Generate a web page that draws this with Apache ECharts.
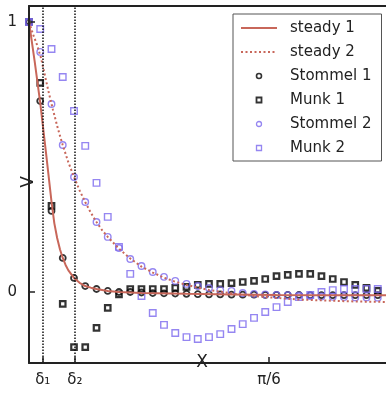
<!DOCTYPE html>
<html><head><meta charset="utf-8">
<script src="https://cdn.jsdelivr.net/npm/echarts@6/dist/echarts.min.js"></script>
<style>html,body{margin:0;padding:0;background:#fff;}#c{width:386px;height:394px;}</style>
</head><body><div id="c"></div>
<script>
// sample positions (k * pi/128)
const sampleX = [0, 0.0245, 0.0491, 0.0736, 0.0982, 0.1227, 0.1473, 0.1718, 0.1963, 0.2209,
  0.2454, 0.2700, 0.2945, 0.3191, 0.3436, 0.3682, 0.3927, 0.4172, 0.4418, 0.4663,
  0.4909, 0.5154, 0.5400, 0.5645, 0.5890, 0.6136, 0.6381, 0.6627, 0.6872, 0.7118,
  0.7363, 0.7609];
const stommel1 = [1.0, 0.707, 0.300, 0.126, 0.052, 0.022, 0.011, 0.004, 0.000, 0.000,
  -0.002, -0.004, -0.005, -0.006, -0.007, -0.008, -0.009, -0.009, -0.010, -0.010,
  -0.010, -0.011, -0.011, -0.011, -0.011, -0.012, -0.012, -0.012, -0.012, -0.012,
  -0.012, -0.012];
const munk1 = [1.0, 0.774, 0.319, -0.044, -0.204, -0.204, -0.133, -0.059, -0.009, 0.011,
  0.011, 0.011, 0.011, 0.015, 0.019, 0.026, 0.030, 0.030, 0.033, 0.037,
  0.041, 0.048, 0.059, 0.063, 0.067, 0.067, 0.059, 0.048, 0.037, 0.026,
  0.015, 0.004];
const stommel2 = [1.0, 0.889, 0.696, 0.544, 0.426, 0.333, 0.259, 0.204, 0.163, 0.122,
  0.096, 0.074, 0.056, 0.041, 0.030, 0.022, 0.015, 0.007, 0.004, -0.004,
  -0.007, -0.009, -0.011, -0.012, -0.013, -0.015, -0.017, -0.018, -0.019, -0.020,
  -0.020, -0.021];
const munk2 = [1.0, 0.974, 0.900, 0.796, 0.670, 0.541, 0.404, 0.278, 0.167, 0.067,
  -0.015, -0.078, -0.122, -0.152, -0.167, -0.174, -0.167, -0.156, -0.137, -0.119,
  -0.096, -0.074, -0.056, -0.037, -0.019, -0.011, 0.000, 0.007, 0.011, 0.011,
  0.011, 0.011];
const steady1X = [0, 0.0123, 0.0245, 0.0368, 0.0491, 0.0552, 0.0614, 0.0675, 0.0736, 0.0798, 0.0859,
  0.0982, 0.1104, 0.1227, 0.1350, 0.1473, 0.1718, 0.1963, 0.2454, 0.3436, 0.4418, 0.5400, 0.6381, 0.7854];
const steady1Y = [1.0, 0.855, 0.700, 0.520, 0.335, 0.255, 0.200, 0.158, 0.126, 0.100, 0.080,
  0.052, 0.034, 0.022, 0.016, 0.011, 0.004, 0.000, -0.004, -0.007, -0.009, -0.011, -0.012, -0.012];
const steady2X = [0, 0.0087, 0.0175, 0.0262, 0.0349, 0.0436, 0.0524, 0.0630, 0.0736, 0.0859, 0.0982, 0.1104, 0.1227,
  0.1350, 0.1473, 0.1595, 0.1718, 0.1963, 0.2209, 0.2454, 0.2700, 0.2945, 0.3191, 0.3436, 0.3927, 0.4418, 0.4909,
  0.5400, 0.5890, 0.6381, 0.6872, 0.7363, 0.7854];
const steady2Y = [1.0, 0.955, 0.915, 0.867, 0.800, 0.735, 0.674, 0.605, 0.544, 0.480, 0.426, 0.376, 0.333,
  0.293, 0.259, 0.229, 0.204, 0.160, 0.124, 0.094, 0.072, 0.053, 0.038, 0.026, 0.007, -0.005, -0.015,
  -0.022, -0.028, -0.031, -0.034, -0.036, -0.037];
const deltaLines = [0.03, 0.1];
const xTickValues = [0.03, 0.1, Math.PI / 6];
const xTickLabels = ['δ₁', 'δ₂', 'π/6'];
const yTickValues = [0, 1];
const yTickLabels = ['0', '1'];
const seriesNames = ['steady 1', 'steady 2', 'Stommel 1', 'Munk 1', 'Stommel 2', 'Munk 2'];

const RED = '#c8675a', BLUE = '#7b68ee', INK = '#222';
const FONT = 'DejaVu Sans';
const SQUARE = 'path://M0,0H10V10H0Z';
function pairs(xs, ys) { return ys.map((y, i) => [xs[i], y]); }
function lab(vals, labels) {
  return v => { const i = vals.findIndex(t => Math.abs(t - v) < 1e-9); return i >= 0 ? labels[i] : ''; };
}
const NOFILL = 'rgba(0,0,0,0)';

const chart = echarts.init(document.getElementById('c'), null, { renderer: 'canvas' });
chart.setOption({
  animation: false,
  backgroundColor: '#fff',
  textStyle: { fontFamily: FONT },
  grid: { left: 29, right: -3, top: 6, bottom: 31, containLabel: false, outerBoundsMode: 'none' },
  legend: {
    orient: 'vertical', left: 233, top: 14,
    itemWidth: 36, itemHeight: 5, itemGap: 8, symbolKeepAspect: true,
    padding: [6, 10, 5, 7],
    borderColor: '#555', borderWidth: 1, borderRadius: 0, backgroundColor: '#fff',
    textStyle: { fontFamily: FONT, fontSize: 15, color: INK, lineHeight: 16, padding: [0, 0, 0, 8] },
    data: [
      { name: seriesNames[0], itemStyle: { color: NOFILL, borderWidth: 0, opacity: 0 } },
      { name: seriesNames[1], itemStyle: { color: NOFILL, borderWidth: 0, opacity: 0 } },
      { name: seriesNames[2], icon: 'circle', itemStyle: { color: NOFILL, borderColor: '#000', borderWidth: 1.6 } },
      { name: seriesNames[3], icon: SQUARE, itemStyle: { color: NOFILL, borderColor: '#000', borderWidth: 1.8 } },
      { name: seriesNames[4], icon: 'circle', itemStyle: { color: NOFILL, borderColor: BLUE, borderWidth: 1.3 } },
      { name: seriesNames[5], icon: SQUARE, itemStyle: { color: NOFILL, borderColor: BLUE, borderWidth: 1.3 } }
    ]
  },
  xAxis: [{
    type: 'value', min: 0, max: Math.PI / 4, position: 'bottom',
    axisLine: { onZero: false, lineStyle: { color: INK, width: 2 } },
    axisTick: { inside: true, length: 6, customValues: xTickValues, lineStyle: { color: INK, width: 1.5 } },
    axisLabel: { customValues: xTickValues, formatter: lab(xTickValues, xTickLabels), margin: 10,
      fontSize: 15, color: INK, fontFamily: FONT },
    splitLine: { show: false },
    name: 'X', nameLocation: 'start', nameGap: -183,
    nameTextStyle: { fontSize: 17, color: INK, fontFamily: FONT, backgroundColor: '#fff', padding: [0, 4] },
    z: 5
  }, {
    type: 'value', min: 0, max: Math.PI / 4, position: 'top',
    axisLine: { onZero: false, lineStyle: { color: INK, width: 2 } },
    axisTick: { show: false }, axisLabel: { show: false }, splitLine: { show: false }
  }],
  yAxis: {
    type: 'value', min: -0.263, max: 1.059,
    axisLine: { onZero: false, lineStyle: { color: INK, width: 2 } },
    axisTick: { inside: true, length: 6, customValues: yTickValues, lineStyle: { color: INK, width: 1.5 } },
    axisLabel: { customValues: yTickValues, formatter: lab(yTickValues, yTickLabels), margin: 12,
      fontSize: 15, color: INK, fontFamily: FONT },
    splitLine: { show: false },
    name: 'V', nameLocation: 'start', nameRotate: 90, nameGap: -191,
    nameTextStyle: { fontSize: 17, color: INK, fontFamily: FONT, backgroundColor: '#fff', padding: [0, 4] },
    z: 5
  },
  series: [
    { name: seriesNames[0], type: 'line', data: pairs(steady1X, steady1Y), symbol: 'none',
      lineStyle: { color: RED, width: 2 }, itemStyle: { color: RED },
      markLine: { silent: true, symbol: 'none', label: { show: false },
        lineStyle: { color: '#111', width: 1.5, type: [1.5, 1.5] },
        data: deltaLines.map(d => ({ xAxis: d })) } },
    { name: seriesNames[1], type: 'line', data: pairs(steady2X, steady2Y), symbol: 'none',
      lineStyle: { color: RED, width: 2, type: [2, 2.5] }, itemStyle: { color: RED } },
    { name: seriesNames[2], type: 'scatter', data: pairs(sampleX, stommel1), symbol: 'circle', symbolSize: 6,
      itemStyle: { color: NOFILL, borderColor: '#000', borderWidth: 1.8 } },
    { name: seriesNames[3], type: 'scatter', data: pairs(sampleX, munk1), symbol: 'rect', symbolSize: 5.5,
      itemStyle: { color: NOFILL, borderColor: '#000', borderWidth: 2.2 } },
    { name: seriesNames[4], type: 'scatter', data: pairs(sampleX, stommel2), symbol: 'circle', symbolSize: 6.5,
      itemStyle: { color: NOFILL, borderColor: BLUE, borderWidth: 1.4 } },
    { name: seriesNames[5], type: 'scatter', data: pairs(sampleX, munk2), symbol: 'rect', symbolSize: 6.5,
      itemStyle: { color: NOFILL, borderColor: BLUE, borderWidth: 1.4 } }
  ]
});
</script></body></html>
